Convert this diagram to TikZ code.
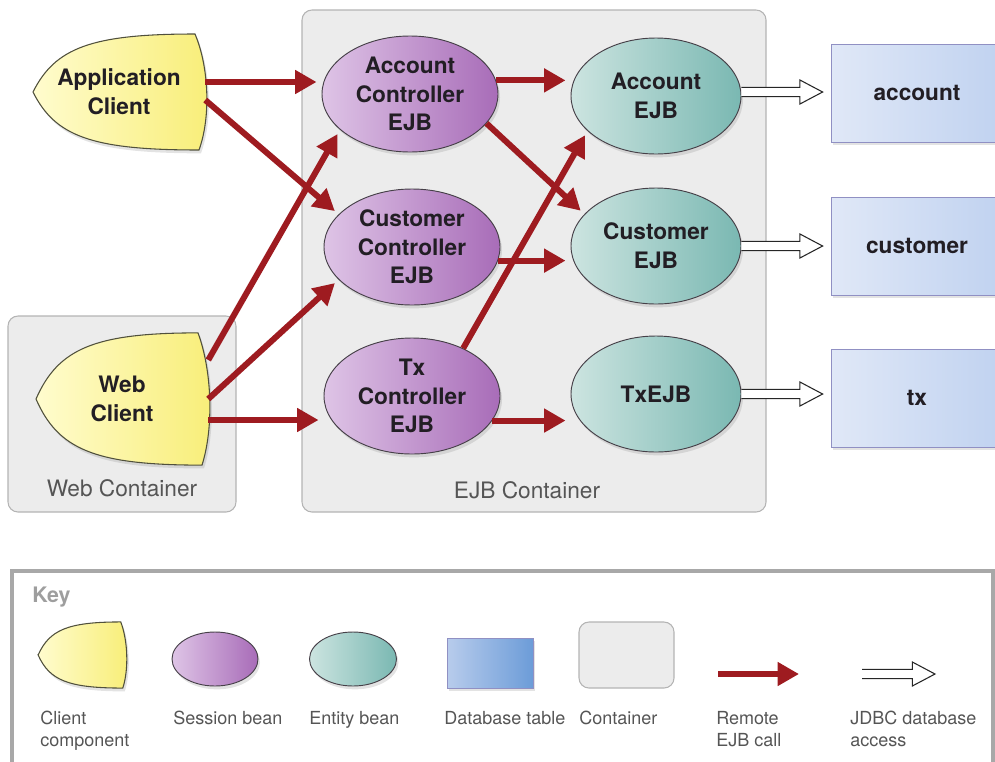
\documentclass[tikz,border=0pt]{standalone}
\usepackage{fontspec}
\setmainfont{TeX Gyre Heros}
\usetikzlibrary{shapes.geometric,arrows.meta,shadows,calc}
\newcommand*{\px}{0.75pt}
\newcommand*{\beanfont}{\fontsize{17}{21.5}\selectfont\bfseries}
\newcommand*{\boxfont}{\fontsize{17}{21}\selectfont}
\newcommand*{\keyfont}{\fontsize{13.5}{16.5}\selectfont}
\definecolor{callred}{RGB}{158,27,32}
\definecolor{labeltext}{RGB}{34,30,36}
\definecolor{softtext}{RGB}{85,85,85}
\definecolor{boxfill}{RGB}{236,236,236}
\definecolor{boxline}{RGB}{180,180,180}
\definecolor{keyline}{RGB}{168,168,168}
\definecolor{beanline}{RGB}{70,64,72}
\definecolor{sessL}{RGB}{222,196,230}
\definecolor{sessR}{RGB}{168,108,184}
\definecolor{entL}{RGB}{204,228,224}
\definecolor{entR}{RGB}{122,184,178}
\definecolor{clientL}{RGB}{255,252,206}
\definecolor{clientR}{RGB}{248,238,120}
\definecolor{clientline}{RGB}{80,80,60}
\definecolor{tabL}{RGB}{224,232,247}
\definecolor{tabR}{RGB}{192,210,240}
\definecolor{keytabL}{RGB}{184,204,236}
\definecolor{keytabR}{RGB}{108,156,216}
\tikzset{
  shade/.style={drop shadow={shadow xshift=1.5pt, shadow yshift=-2.5pt, opacity=.22}},
  container/.style={draw=boxline, fill=boxfill, rounded corners=10*\px, line width=0.8pt},
  boxlabel/.style={font=\boxfont, text=softtext, inner sep=0pt},
  keylabel/.style={font=\keyfont, text=softtext, inner sep=0pt, align=left, anchor=north west},
  session/.style={ellipse, draw=beanline, line width=0.7pt, left color=sessL, right color=sessR,
    minimum width=176*\px, minimum height=116*\px, inner sep=0pt, align=center,
    font=\beanfont, text=labeltext, shade},
  entity/.style={session, left color=entL, right color=entR, minimum width=170*\px},
  dbtable/.style={rectangle, draw=boxline!80!blue, line width=0.6pt, left color=tabL, right color=tabR,
    minimum width=172*\px, minimum height=98*\px, inner sep=0pt, font=\beanfont, text=labeltext, shade},
  clientlbl/.style={minimum width=172*\px, minimum height=116*\px, inner sep=0pt, align=center,
    font=\beanfont, text=labeltext},
  call/.style={draw=callred, line width=4.5pt, -{Triangle[length=16pt, width=17pt]}, shorten >=5*\px},
  jdbc/.style={draw=black!85, fill=white, line width=0.8pt, line join=miter,
    to path={let \p1=(\tikztostart), \p2=(\tikztotarget) in
      (\x1,\y1+3.5pt) -- (\x2-23pt,\y1+3.5pt) -- (\x2-23pt,\y1+9pt) -- (\x2-6pt,\y1)
      -- (\x2-23pt,\y1-9pt) -- (\x2-23pt,\y1-3.5pt) -- (\x1,\y1-3.5pt)}},
  pics/clientshape/.style={code={
    \path[draw=clientline, line width=0.8pt, left color=clientL, right color=clientR, shade]
      (-86,0) .. controls (-64,-44) and (-28,-58) .. (76,-58)
      .. controls (90,-25) and (92,25) .. (80,58)
      .. controls (-28,58) and (-64,44) .. cycle;
  }}
}

\begin{document}
\begin{tikzpicture}[x=\px, y=-\px]
    \path[use as bounding box, clip] (0,0) rectangle (995,761);
    % containers
    \draw[container] (302,10) rectangle (766,512);
    \draw[container] (8,316) rectangle (236,512);
    \node[boxlabel] (ejblbl) at (527,490) {EJB Container};
    \node[boxlabel] (weblbl) at (122,488) {Web Container};

    % clients
    \pic at (119,92) {clientshape};
    \pic[yscale=1.14] at (122,399) {clientshape};
    \node[clientlbl] (app) at (119,92) {Application\\Client};
    \node[clientlbl] (web) at (122,399) {Web\\Client};

    % session and entity beans
    \node[session] (acctrl)  at (410,94)  {Account\\Controller\\EJB};
    \node[session] (custctl) at (412,247) {Customer\\Controller\\EJB};
    \node[session] (txctl)   at (412,396) {Tx\\Controller\\EJB};
    \node[entity]  (accejb)  at (656,96)  {Account\\EJB};
    \node[entity]  (custejb) at (656,246) {Customer\\EJB};
    \node[entity]  (txejb)   at (656,394) {TxEJB};

    % tables
    \node[dbtable] (acctab)  at (917,93)  {account};
    \node[dbtable] (custtab) at (917,246) {customer};
    \node[dbtable] (txtab)   at (917,398) {tx};

    % remote calls
    \draw[call] ([yshift=10*\px]app.east) -- ([yshift=10*\px]app.east -| acctrl.west);
    \draw[call] ([yshift=-8*\px]app.east) -- (custctl.156);
    \draw[call] ([yshift=39*\px]web.east) -- (acctrl.207);
    \draw[call] (web.east) -- (custctl.204);
    \draw[call] ([yshift=-21*\px]web.east) -- ([yshift=-21*\px]web.east -| txctl.west);
    \draw[call] (acctrl.9) -- (acctrl.9 -| accejb.west);
    \draw[call] (acctrl.-21) -- (custejb.156);
    \draw[call] (custctl.-9) -- (custctl.-9 -| custejb.west);
    \draw[call] (txctl.43) -- (accejb.207);
    \draw[call] (txctl.-17) -- (txctl.-17 -| txejb.west);

    % jdbc access
    \draw[jdbc] ([yshift=4*\px]accejb.east) to (acctab.west);
    \draw[jdbc] (custejb.east) to (custtab.west);
    \draw[jdbc] (txejb.east) to (txtab.west);

    % key
    \draw[keyline, line width=3pt] (12,571) rectangle (993,790);
    \node[font=\fontsize{16}{18}\selectfont\bfseries, text=black!38, anchor=base west, inner sep=0pt] (keyttl) at (32,602) {Key};
    \pic[xscale=0.51, yscale=0.57] at (82,655) {clientshape};
    \node[session, minimum width=86*\px, minimum height=54*\px] (keysess) at (215,659) {};
    \node[entity, minimum width=87*\px, minimum height=54*\px] (keyent) at (353,659) {};
    \node[dbtable, left color=keytabL, right color=keytabR, minimum width=86*\px, minimum height=50*\px] (keytab) at (490,663) {};
    \draw[container] (579,622) rectangle (674,688);
    \coordinate (kcfrom) at (718,674);
    \coordinate (kcto) at (804,674);
    \draw[call] (kcfrom) -- (kcto);
    \coordinate (kjfrom) at (862,674);
    \coordinate (kjto) at (943,674);
    \draw[jdbc] (kjfrom) to (kjto);

    \node[keylabel] (kl1) at (40,711)  {Client\\component};
    \node[keylabel] (kl2) at (173,711) {Session bean};
    \node[keylabel] (kl3) at (309,711) {Entity bean};
    \node[keylabel] (kl4) at (444,711) {Database table};
    \node[keylabel] (kl5) at (579,711) {Container};
    \node[keylabel] (kl6) at (716,711) {Remote\\EJB call};
    \node[keylabel] (kl7) at (850,711) {JDBC database\\access};
\end{tikzpicture}
\end{document}
